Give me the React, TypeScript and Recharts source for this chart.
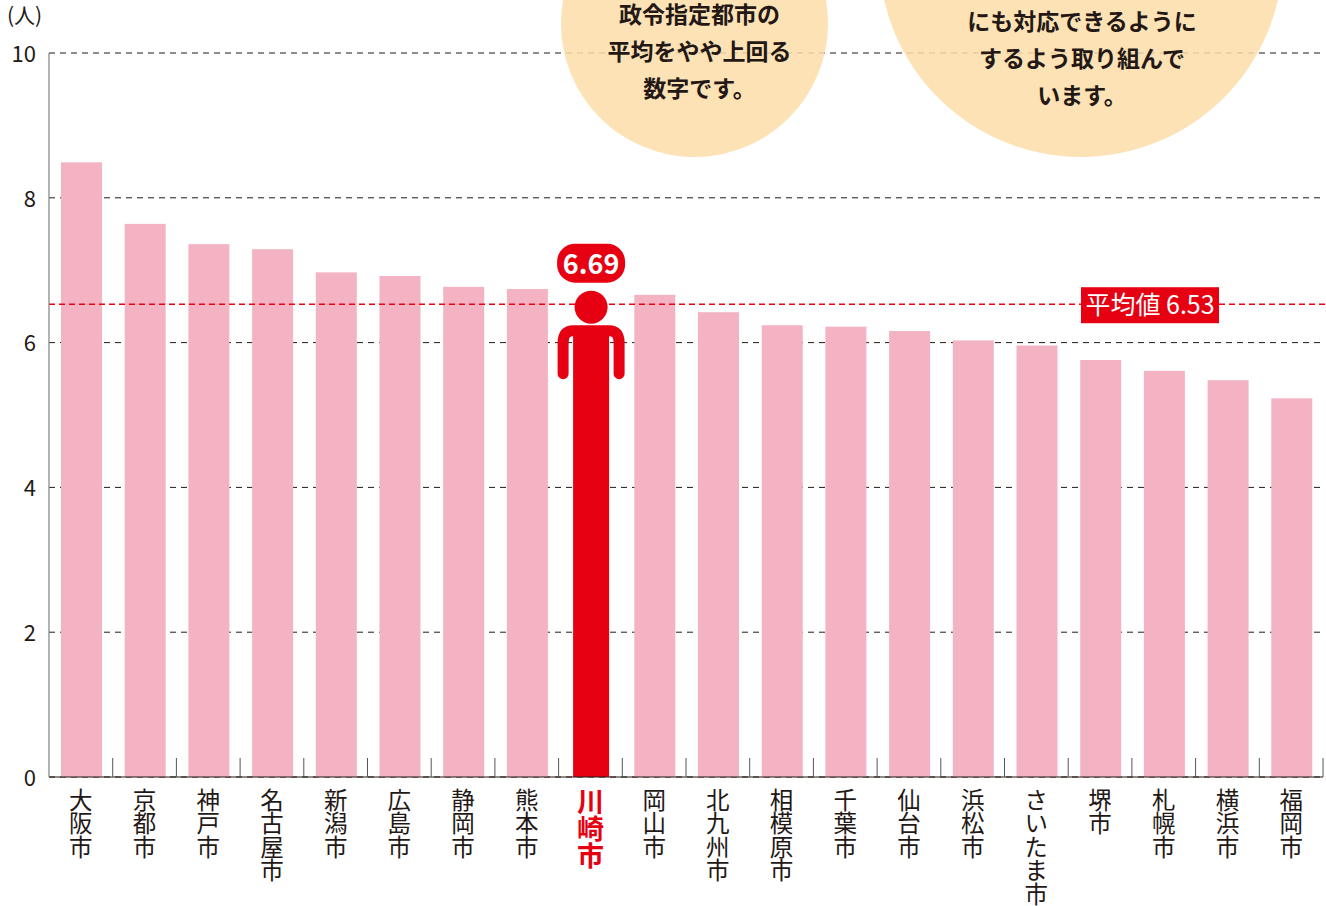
import { BarChart, Bar, XAxis, YAxis, CartesianGrid, ReferenceLine } from 'recharts';

const cities = ['大阪市', '京都市', '神戸市', '名古屋市', '新潟市', '広島市', '静岡市', '熊本市', '川崎市', '岡山市', '北九州市', '相模原市', '千葉市', '仙台市', '浜松市', 'さいたま市', '堺市', '札幌市', '横浜市', '福岡市'];
const counts = [8.49, 7.64, 7.36, 7.29, 6.97, 6.92, 6.77, 6.74, 6.69, 6.66, 6.42, 6.24, 6.22, 6.16, 6.03, 5.96, 5.76, 5.61, 5.48, 5.23];
const yTicks = [0, 2, 4, 6, 8, 10];
const average = 6.53;
const highlight = '川崎市';

const noteLeft = ['政令指定都市の', '平均をやや上回る', '数字です。'];
const noteRight = ['にも対応できるように', 'するよう取り組んで', 'います。'];

const chartData = cities.map((name, i) => ({ name, value: counts[i] }));

const FONT = '"Noto Sans CJK JP", "Noto Sans", sans-serif';
const RED = '#E60012';
const PINK = '#F4B3C2';
const INK = '#231815';
const BEIGE = '#FBDDA8';
const STEP = (1323 - 49) / cities.length;

function CityTick({ x, y, payload }: any) {
  const isHighlight = payload.value === highlight;
  return (
    <g>
      <line x1={x + STEP / 2} x2={x + STEP / 2} y1={758} y2={777} stroke="#555" strokeWidth={1} />
      <text
        x={x}
        y={y + 3}
        fontFamily={FONT}
        fontSize={isHighlight ? 27 : 23.5}
        fontWeight={isHighlight ? 700 : 400}
        fill={isHighlight ? RED : INK}
        style={{ writingMode: 'vertical-rl' }}
      >
        {payload.value}
      </text>
    </g>
  );
}

function CityBar({ x, y, width, height, payload, value }: any) {
  if (payload.name !== highlight) {
    return <rect x={x + 1} y={y} width={width} height={height} fill={PINK} />;
  }
  const cx = x + 1 + width / 2;
  const top = y;
  return (
    <g>
      {/* person shape */}
      <rect x={cx - 18} y={top + 40} width={36} height={height - 40} fill={RED} />
      <circle cx={cx} cy={top + 14.5} r={16.5} fill={RED} />
      <path
        d={`M${cx - 28} ${top + 81} L${cx - 28} ${top + 50} Q${cx - 28} ${top + 38} ${cx - 18} ${top + 38} L${cx + 18} ${top + 38} Q${cx + 28} ${top + 38} ${cx + 28} ${top + 50} L${cx + 28} ${top + 81}`}
        fill="none"
        stroke={RED}
        strokeWidth={11}
        strokeLinecap="round"
      />
      <rect x={cx - 34} y={top - 49} width={68} height={39} rx={18} fill={RED} />
      <text x={cx} y={top - 19} textAnchor="middle" fontFamily={FONT} fontSize={27} fontWeight={700} fill="#fff">
        {value.toFixed(2)}
      </text>
    </g>
  );
}

function AverageLine({ x1, x2, y1 }: any) {
  return (
    <g>
      <line x1={x1} x2={x2 + 3} y1={y1} y2={y1} stroke={RED} strokeWidth={1.5} strokeDasharray="6 4" />
      <rect x={1081} y={y1 - 17} width={138} height={36} fill={RED} />
      <text x={1150} y={y1 + 10} textAnchor="middle" fontFamily={FONT} fontSize={25} fill="#fff">
        {`平均値 ${average}`}
      </text>
    </g>
  );
}

function Note({ cx, cy, r, lines, firstY, textX }: { cx: number; cy: number; r: number; lines: string[]; firstY: number; textX: number }) {
  return (
    <g>
      <circle cx={cx} cy={cy} r={r} fill={BEIGE} fillOpacity={0.85} />
      {lines.map((line, i) => (
        <text key={line} x={textX} y={firstY + i * 37} textAnchor="middle" fontFamily={FONT} fontSize={23} fontWeight={700} fill={INK}>
          {line}
        </text>
      ))}
    </g>
  );
}

export default function App() {
  return (
    <div style={{ position: 'absolute', left: 0, top: 0, width: 1326, height: 906 }}>
      <BarChart
        width={1326}
        height={906}
        data={chartData}
        margin={{ top: 53, right: 3, bottom: 0, left: 0 }}
      >
        <CartesianGrid vertical={false} stroke={INK} strokeWidth={1} strokeDasharray="6 5" />
        <Note cx={694.5} cy={23.5} r={133.5} lines={noteLeft} firstY={23} textX={699.5} />
        <Note cx={1081} cy={-45} r={202} lines={noteRight} firstY={30} textX={1082} />
        <XAxis
          dataKey="name"
          interval={0}
          height={129}
          axisLine={{ stroke: INK, strokeWidth: 1.2 }}
          tickLine={false}
          tick={<CityTick />}
        />
        <YAxis
          domain={[0, 10]}
          ticks={yTicks}
          width={49}
          axisLine={{ stroke: '#808080', strokeWidth: 1.2 }}
          tickLine={false}
          tickMargin={7}
          tick={{ fontFamily: FONT, fontSize: 22, fill: INK, dy: 1 }}
        />
        <Bar dataKey="value" barSize={41} isAnimationActive={false} shape={<CityBar />} />
        <ReferenceLine y={average} shape={<AverageLine />} />
        <text x={7} y={23} fontFamily={FONT} fontSize={21} fill={INK}>(人)</text>
      </BarChart>
    </div>
  );
}
